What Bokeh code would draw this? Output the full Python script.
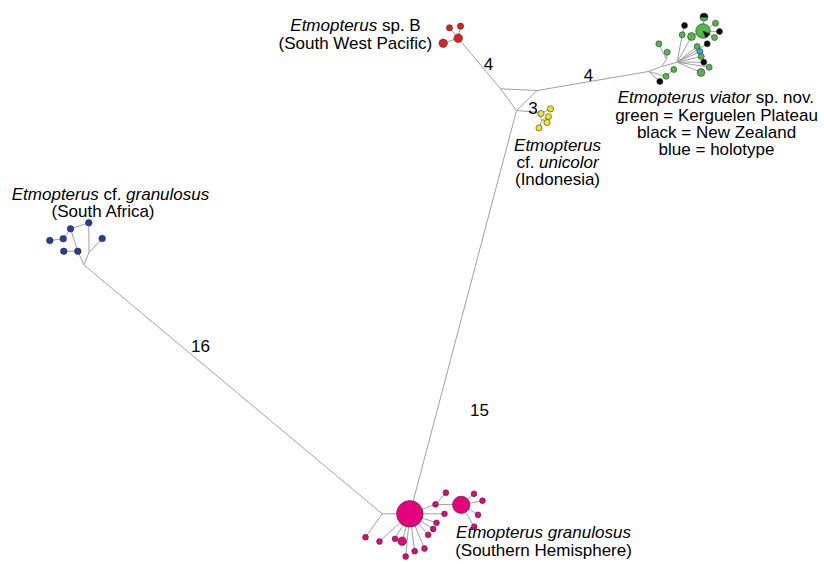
from bokeh.plotting import figure
from bokeh.models import Range1d, ColumnDataSource
from bokeh.core.properties import value
from bokeh.embed import file_html
from bokeh.resources import INLINE

# ---------------- data ----------------
# haplotypes: id, x, y, radius, group
hap_id = ["M0", "M1", "M2", "M3", "M4", "M5", "M6", "M7", "M8", "M9", "M10", "M11",
          "M12", "M13", "M14", "M15", "M16", "M17", "M18",
          "R0", "R1", "R2", "R3",
          "Y0", "Y1", "Y2", "Y3", "Y4",
          "B0", "B1", "B2", "B3", "B4", "B5", "B6",
          "V0", "V1", "V2", "V3", "V4", "V5", "V6", "V7", "V8", "V9", "V10", "V11",
          "V12", "V13", "V14", "V15", "V16", "V17", "V18", "V19"]
hap_x = [409.3, 460.7, 365.0, 379.0, 394.5, 401.7, 405.2, 414.2, 424.0, 427.7, 432.7, 436.0,
         444.0, 435.0, 445.4, 473.5, 482.0, 477.5, 473.7,
         457.7, 442.7, 449.0, 460.0,
         540.5, 550.0, 548.0, 546.5, 538.5,
         88.3, 70.0, 62.7, 49.3, 101.7, 63.3, 77.3,
         658.3, 666.7, 681.7, 684.0, 691.0, 702.5, 703.5, 715.0, 719.0, 714.0, 706.7, 696.7,
         699.3, 700.7, 703.3, 708.7, 700.5, 673.3, 665.5, 659.3]
hap_y = [513.3, 504.3, 536.7, 541.0, 538.3, 540.7, 556.0, 550.7, 548.0, 534.3, 528.5, 522.3,
         513.3, 503.8, 492.2, 493.3, 500.2, 514.3, 526.2,
         37.7, 42.7, 27.3, 25.7,
         113.0, 108.3, 116.0, 122.0, 127.5,
         222.3, 228.3, 238.3, 240.0, 238.0, 250.8, 250.8,
         43.3, 51.7, 34.3, 25.0, 36.0, 30.5, 16.7, 22.7, 31.0, 37.0, 43.3, 46.0,
         51.0, 56.0, 61.7, 66.7, 72.0, 69.0, 75.8, 81.0]
hap_r = [13.3, 8.7, 2.9, 2.9, 2.9, 4.3, 2.9, 2.9, 2.9, 2.9, 2.9, 2.9,
         2.9, 2.9, 2.9, 2.9, 2.9, 2.9, 2.9,
         4.3, 4.2, 3.1, 3.1,
         3.1, 3.1, 3.1, 3.1, 3.1,
         3.3, 3.3, 3.3, 3.3, 3.3, 3.3, 3.3,
         3.0, 3.0, 3.0, 3.0, 3.9, 7.3, 3.9, 3.0, 3.0, 3.0, 3.0, 3.0,
         3.0, 3.0, 3.0, 3.0, 3.9, 3.0, 3.0, 3.0]
hap_group = ["granulosus"] * 19 + ["spB"] * 4 + ["unicolor"] * 5 + ["cf_granulosus"] * 7 + \
            ["kerguelen", "kerguelen", "kerguelen", "newzealand", "kerguelen", "kerguelen",
             "kerguelen", "kerguelen", "newzealand", "kerguelen", "newzealand", "kerguelen",
             "holotype", "kerguelen", "newzealand", "kerguelen", "kerguelen", "kerguelen",
             "kerguelen", "newzealand"]

# shared haplotypes (fraction from New Zealand, drawn as black sector)
shared_id = ["V5", "V6"]
shared_start_deg = [-68, 0]
shared_end_deg = [-22, 180]

# median vectors / branching points
junc_id = ["JM", "JC", "JL", "JR", "JY", "JY2", "JSA", "JK", "JV", "JV2", "JV4", "JV3"]
junc_x = [381.7, 516.0, 500.0, 536.7, 536.5, 541.5, 83.3, 88.5, 648.0, 661.0, 666.0, 676.7]
junc_y = [513.3, 110.0, 88.3, 90.0, 111.8, 119.5, 264.3, 252.0, 71.0, 66.0, 59.0, 61.7]

# network links
edge_from = ["JM", "JM", "M0", "M0", "M0", "M0", "M0", "M0", "M0", "M0", "M0", "M0", "M0",
             "M13", "M13", "M1", "M1", "M1", "M1",
             "JM", "M0",
             "JL", "JL", "JL", "JR", "JR",
             "R0", "R0", "R0",
             "JC", "JY", "Y0", "JY", "JY2", "JY2", "JY2",
             "JSA", "B6", "B6", "B1", "B2", "B1", "B0", "B4", "JK",
             "JV", "JV2", "JV4", "JV4", "JV2", "JV3", "V2", "JV3", "V4",
             "JV3", "JV3", "JV3", "JV3", "JV3", "JV3", "JV3",
             "V5", "V5", "V5", "V5", "JV", "V18", "JV"]
edge_to = ["M0", "M2", "M3", "M4", "M5", "M6", "M7", "M8", "M9", "M10", "M11", "M12", "M13",
           "M1", "M14", "M15", "M16", "M17", "M18",
           "JSA", "JC",
           "JC", "JR", "R0", "JC", "JV",
           "R1", "R2", "R3",
           "JY", "Y0", "Y1", "JY2", "Y2", "Y3", "Y4",
           "B6", "B5", "B1", "B0", "B3", "B2", "JK", "JK", "JSA",
           "JV2", "JV4", "V0", "V1", "JV3", "V2", "V3", "V4", "V5",
           "V10", "V11", "V12", "V13", "V14", "V15", "V16",
           "V6", "V7", "V8", "V9", "V18", "V17", "V19"]

# number of mutational steps on the long branches
step_text = ["16", "15", "4", "4", "3"]
step_x = [200.0, 479.0, 488.0, 588.0, 532.5]
step_y = [345.0, 409.0, 63.0, 74.0, 107.0]

group_color = {"granulosus": "#e5007e", "spB": "#e31b23", "unicolor": "#f0e51c",
               "cf_granulosus": "#233f98", "kerguelen": "#4fb848", "newzealand": "#0a0a0a",
               "holotype": "#29abe2"}

# labels: (centre x, y, [(text, style), ...])
labels = [
    (355, 24.5, [("Etmopterus", "italic"), (" sp. B", "normal")]),
    (355, 42.5, [("(South West Pacific)", "normal")]),
    (716, 97, [("Etmopterus viator", "italic"), (" sp. nov.", "normal")]),
    (716, 114.5, [("green = Kerguelen Plateau", "normal")]),
    (716, 131.5, [("black = New Zealand", "normal")]),
    (716, 148.5, [("blue = holotype", "normal")]),
    (557, 144.5, [("Etmopterus", "italic")]),
    (557, 161.5, [("cf. ", "normal"), ("unicolor", "italic")]),
    (557, 178.5, [("(Indonesia)", "normal")]),
    (110, 194, [("Etmopterus", "italic"), (" cf. ", "normal"), ("granulosus", "italic")]),
    (103, 211, [("(South Africa)", "normal")]),
    (543, 532, [("Etmopterus granulosus", "italic")]),
    (543, 549.5, [("(Southern Hemisphere)", "normal")]),
]

# ---------------- layout helpers ----------------
FONT = "Liberation Sans"
FS = 17.0
CW = {" ": 278, ".": 278, "(": 333, ")": 333, "=": 584, "A": 667, "B": 667, "E": 667,
      "H": 722, "I": 278, "K": 667, "N": 722, "P": 667, "S": 667, "W": 944, "Z": 611,
      "a": 556, "b": 556, "c": 500, "d": 556, "e": 556, "f": 278, "g": 556, "h": 556,
      "i": 222, "k": 500, "l": 222, "m": 833, "n": 556, "o": 556, "p": 556, "r": 333,
      "s": 500, "t": 278, "u": 556, "v": 500, "w": 722, "y": 500, "z": 500}


def tw(s):
    return sum(CW.get(c, 556) for c in s) * FS / 1000.0


pos = {h: (x, y) for h, x, y in zip(hap_id, hap_x, hap_y)}
pos.update({j: (x, y) for j, x, y in zip(junc_id, junc_x, junc_y)})

W, H = 820, 560
p = figure(width=W, height=H, x_range=Range1d(0, W), y_range=Range1d(H, 0),
           output_backend="svg", toolbar_location=None, x_axis_type=None, y_axis_type=None,
           min_border=0, min_border_left=0, min_border_right=0, min_border_top=0,
           min_border_bottom=0)
p.grid.visible = False
p.outline_line_color = None
p.background_fill_color = "white"
p.border_fill_color = "white"

esrc = ColumnDataSource(dict(
    x0=[pos[a][0] for a in edge_from], y0=[pos[a][1] for a in edge_from],
    x1=[pos[b][0] for b in edge_to], y1=[pos[b][1] for b in edge_to]))
p.segment("x0", "y0", "x1", "y1", source=esrc, line_color="#a0a0a0", line_width=1)

hsrc = ColumnDataSource(dict(x=hap_x, y=hap_y, r=hap_r,
                             c=[group_color[g] for g in hap_group]))
p.circle("x", "y", radius="r", source=hsrc, fill_color="c", line_color="#333333",
         line_width=0.6)

wsrc = ColumnDataSource(dict(
    x=[pos[s][0] for s in shared_id], y=[pos[s][1] for s in shared_id],
    r=[hap_r[hap_id.index(s)] for s in shared_id],
    a0=shared_start_deg, a1=shared_end_deg))
p.wedge("x", "y", radius="r", start_angle="a0", end_angle="a1",
        start_angle_units="deg", end_angle_units="deg",
        source=wsrc, fill_color=group_color["newzealand"], line_color="#333333",
        line_width=0.6)

p.text(step_x, step_y, text=step_text, text_font=value(FONT), text_font_size="17px",
       text_align="center", text_baseline="middle", text_color="black")

for cx, cy, segs in labels:
    total = sum(tw(t) for t, _ in segs)
    x = cx - total / 2.0
    for t, style in segs:
        lead = t[:len(t) - len(t.lstrip())]
        p.text([x + tw(lead)], [cy], text=[t.strip()], text_font=value(FONT),
               text_font_size="17px", text_font_style=style, text_align="left",
               text_baseline="middle", text_color="black")
        x += tw(t)

open("out.html", "w").write(file_html(p, INLINE))
